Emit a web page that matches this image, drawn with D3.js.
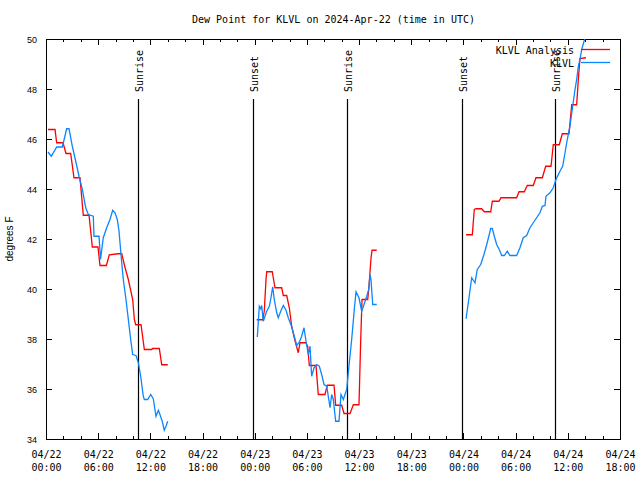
<!DOCTYPE html>
<html><head><meta charset="utf-8">
<script src="https://cdn.jsdelivr.net/npm/d3@7"></script>
<style>body{margin:0;background:#fff}svg{display:block}</style>
</head><body>
<script>
// ---- data (hours after 2024-04-22 00:00 UTC, degrees F); null = gap ----
const redHours = [0.17,0.98,1.17,1.90,2.24,2.78,3.16,3.85,4.23,4.89,5.27,5.92,6.15,6.88,7.22,8.22,8.65,9.03,9.41,9.91,10.10,10.26,10.87,11.25,12.10,12.19,12.97,13.25,13.94,
  14.5,
  24.17,24.86,25.04,25.24,25.32,25.96,26.27,27.04,27.23,27.62,27.92,28.19,28.49,28.69,28.95,29.15,29.80,30.03,30.22,30.99,31.25,32.02,32.29,33.06,33.25,33.94,34.21,34.90,35.28,35.93,36.13,36.28,36.93,37.05,37.31,37.43,37.97,
  38.5,
  48.24,48.96,49.19,49.39,50.04,50.34,51.08,51.26,52.03,52.26,54.06,54.33,54.94,55.28,55.97,56.28,57.01,57.40,58.01,58.27,58.96,59.31,60.08,60.39,60.96,61.15,61.34,62.03];
const redVals = [46.4,46.4,45.87,45.87,45.44,45.44,44.47,44.47,42.97,42.97,41.7,41.7,40.96,40.96,41.39,41.43,41.43,40.88,40.4,39.6,38.8,38.59,38.59,37.6,37.6,37.64,37.64,36.99,36.99,
  null,
  38.79,38.79,39.13,40.4,40.71,40.71,40.07,40.07,39.76,39.76,39.27,38.53,38.07,37.8,37.47,37.87,37.87,37.73,36.96,36.96,35.8,35.8,36.17,36.17,35.37,35.37,35.04,35.04,35.39,35.39,38.0,39.6,39.6,40.0,41.24,41.57,41.57,
  null,
  42.19,42.19,43.2,43.23,43.23,43.11,43.11,43.53,43.53,43.67,43.67,43.91,43.91,44.16,44.16,44.47,44.47,44.93,44.93,45.79,45.79,46.23,46.23,47.39,47.39,48.4,49.24,49.27];

const blueHours = [0.17,0.55,1.17,1.82,2.32,2.59,2.97,3.36,3.74,4.12,4.51,4.81,5.38,5.46,6.04,6.21,6.53,6.92,7.30,7.61,7.88,8.14,8.34,8.45,8.65,8.83,9.14,9.41,9.68,9.91,10.29,10.56,10.83,11.13,11.25,11.64,11.98,12.28,12.59,12.86,12.97,13.31,13.54,13.74,13.94,
  14.5,
  24.24,24.47,24.63,24.74,24.93,25.32,25.62,25.81,26.01,26.19,26.47,26.65,26.93,27.23,27.54,27.80,28.19,28.49,28.77,29.07,29.34,29.61,29.84,30.10,30.30,30.49,30.76,31.07,31.37,31.64,31.91,32.22,32.40,32.60,32.79,32.98,33.25,33.63,33.86,34.13,34.32,34.52,34.70,35.09,35.39,35.59,35.93,36.24,36.51,36.82,37.05,37.20,37.31,37.51,37.97,
  38.5,
  48.24,48.50,48.89,49.07,49.27,49.53,49.93,50.30,50.62,50.91,51.07,51.26,51.49,51.76,52.06,52.34,52.64,52.98,53.29,54.06,54.44,54.82,55.21,55.59,55.97,56.36,56.74,57.01,57.32,57.43,57.89,58.27,58.58,59.04,59.35,59.62,59.88,60.19,60.50,60.77,60.96,61.15,61.34,61.54,61.92,62.49];
const blueVals = [45.5,45.33,45.7,45.7,46.43,46.43,45.73,45.13,44.53,44.0,43.27,43.0,42.93,42.13,42.13,41.2,42.07,42.47,42.8,43.17,43.07,42.8,42.33,41.87,41.07,40.4,39.6,38.8,38.0,37.4,37.36,37.07,36.53,35.73,35.6,35.6,35.8,35.63,34.93,35.17,35.07,34.73,34.37,34.53,34.73,
  null,
  38.1,39.33,39.23,39.36,38.73,39.13,39.33,39.67,40.11,39.6,39.07,38.87,39.13,39.36,39.17,38.87,38.51,38.13,37.76,37.89,38.13,38.47,37.93,37.4,37.73,36.53,36.87,37.0,36.93,36.6,36.2,36.13,35.73,35.27,35.8,35.6,34.73,34.73,35.8,35.6,35.8,36.0,36.67,38.0,39.2,39.91,39.67,39.13,39.4,39.73,40.0,40.6,40.4,39.4,39.4,
  null,
  38.83,39.47,40.47,40.37,40.27,40.8,41.0,41.4,41.8,42.2,42.44,42.44,42.13,41.8,41.6,41.36,41.36,41.53,41.36,41.36,41.67,42.07,42.16,42.47,42.67,42.87,43.07,43.33,43.36,43.73,43.87,44.07,44.4,44.73,44.93,45.47,46.0,46.53,47.33,48.0,48.4,48.93,49.2,49.6,50.07,50.6];

const sunHours = [10.56, 23.77, 34.59, 47.81, 58.50];
const sunLabels = ["Sunrise", "Sunset", "Sunrise", "Sunset", "Sunrise"];
const seriesNames = ["KLVL Analysis", "KLVL"];
const seriesColors = ["#ff0000", "#0a86ff"];
const yTicks = [34, 36, 38, 40, 42, 44, 46, 48, 50];
const titleText = "Dew Point for KLVL on 2024-Apr-22 (time in UTC)";
const yLabel = "degrees F";

// ---- drawing ----
const W = 640, H = 480;
const HOUR = 3600 * 1000;
const t0 = Date.UTC(2024, 3, 22, 0, 0);
const L = 46, R = 620, T = 39, B = 439;
const mono = "'DejaVu Sans Mono', monospace";
const sans = "'Liberation Sans', Arial, sans-serif";

const svg = d3.select("body").append("svg").attr("width", W).attr("height", H);
svg.append("rect").attr("width", W).attr("height", H).attr("fill", "#fff");

const x = d3.scaleUtc().domain([new Date(t0), new Date(t0 + 66 * HOUR)]).range([L, R]);
const y = d3.scaleLinear().domain([34, 50]).range([B, T]);

const majorTicks = d3.range(0, 67, 6).map(h => new Date(t0 + h * HOUR));
const minorTicks = d3.range(0, 67, 2).filter(h => h % 6 !== 0).map(h => new Date(t0 + h * HOUR));

function tickAxis(axisFn, scale, vals, size, tr) {
  const g = svg.append("g").attr("transform", tr)
    .call(axisFn(scale).tickValues(vals).tickSize(size).tickSizeOuter(0).tickFormat(""));
  g.select(".domain").remove();
  g.selectAll("line").attr("stroke", "#000").attr("shape-rendering", "crispEdges");
  return g;
}
tickAxis(d3.axisBottom, x, majorTicks, -6, `translate(0,${B})`);
tickAxis(d3.axisBottom, x, minorTicks, -3, `translate(0,${B})`);
tickAxis(d3.axisTop, x, majorTicks, -6, `translate(0,${T})`);
tickAxis(d3.axisTop, x, minorTicks, -3, `translate(0,${T})`);
tickAxis(d3.axisLeft, y, yTicks, -6, `translate(${L},0)`);
tickAxis(d3.axisRight, y, yTicks, -6, `translate(${R},0)`);

// frame
svg.append("rect").attr("x", L + 0.5).attr("y", T + 0.5).attr("width", R - L).attr("height", B - T)
  .attr("fill", "none").attr("stroke", "#000").attr("shape-rendering", "crispEdges");

// x labels
const fmtD = d3.utcFormat("%m/%d"), fmtT = d3.utcFormat("%H:%M");
const xl = svg.append("g").attr("font-family", mono).attr("font-size", 10).attr("text-anchor", "middle").attr("fill", "#000");
majorTicks.forEach(d => {
  const t = xl.append("text").attr("x", x(d) + 0.5);
  t.append("tspan").attr("x", x(d) + 0.5).attr("y", 458).text(fmtD(d));
  t.append("tspan").attr("x", x(d) + 0.5).attr("y", 471).text(fmtT(d));
});

// y labels
const yl = svg.append("g").attr("font-family", sans).attr("font-size", 9).attr("text-anchor", "end").attr("fill", "#000");
yTicks.forEach(v => yl.append("text").attr("x", 37).attr("y", y(v) + 3.5).text(v));

svg.append("text").attr("transform", `translate(13,${(T + B) / 2}) rotate(-90)`)
  .attr("text-anchor", "middle").attr("font-family", sans).attr("font-size", 10).text(yLabel);

svg.append("text").attr("x", (L + R) / 2 + 0.5).attr("y", 23).attr("text-anchor", "middle")
  .attr("font-family", mono).attr("font-size", 10).text(titleText);

// sun lines
sunHours.forEach((h, i) => {
  const xx = Math.round(x(new Date(t0 + h * HOUR))) + 0.5;
  svg.append("line").attr("x1", xx).attr("x2", xx).attr("y1", 99).attr("y2", B + 0.5)
    .attr("stroke", "#000").attr("stroke-width", 1.2);
  svg.append("text").attr("transform", `translate(${xx + 4.5},92) rotate(-90)`)
    .attr("font-family", mono).attr("font-size", 10).attr("text-anchor", "start").text(sunLabels[i]);
});

// clip
svg.append("clipPath").attr("id", "plotclip").append("rect")
  .attr("x", L).attr("y", T).attr("width", R - L + 1).attr("height", B - T + 1);

function series(hours, vals) {
  return hours.map((h, i) => ({ t: new Date(t0 + h * HOUR), v: vals[i] }));
}
const line = d3.line().defined(d => d.v !== null).x(d => x(d.t) + 0.5).y(d => y(d.v) + 0.5);
const data = [series(redHours, redVals), series(blueHours, blueVals)];
data.forEach((s, i) => {
  svg.append("path").datum(s).attr("clip-path", "url(#plotclip)")
    .attr("d", line).attr("fill", "none").attr("stroke", seriesColors[i]).attr("stroke-width", 1.3)
    .attr("stroke-linejoin", "miter");
});

// legend
const lg = svg.append("g").attr("font-family", mono).attr("font-size", 10);
seriesNames.forEach((n, i) => {
  const ly = 49.5 + i * 13;
  lg.append("text").attr("x", 574).attr("y", ly + 4).attr("text-anchor", "end").text(n);
  lg.append("line").attr("x1", 581).attr("x2", 610).attr("y1", ly).attr("y2", ly)
    .attr("stroke", seriesColors[i]).attr("stroke-width", 1.3);
});
</script>
</body></html>
